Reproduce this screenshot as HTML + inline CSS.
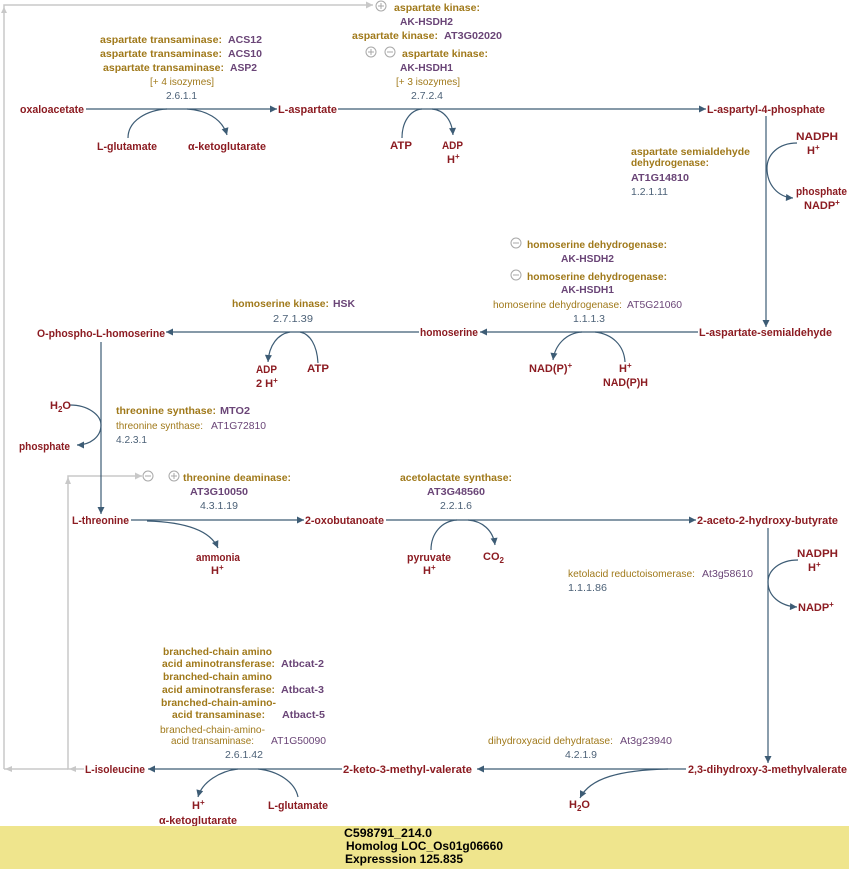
<!DOCTYPE html>
<html><head><meta charset="utf-8"><style>
html,body{margin:0;padding:0;background:#fff;}
svg{display:block;}
.c{font-family:"Liberation Sans",sans-serif;font-weight:bold;font-size:11px;fill:#8C1C22;}
.e{font-family:"Liberation Sans",sans-serif;font-weight:bold;font-size:10.5px;fill:#A0791A;}
.g{font-family:"Liberation Sans",sans-serif;font-weight:bold;font-size:10.5px;fill:#6A4577;}
.en{font-family:"Liberation Sans",sans-serif;font-size:10.5px;fill:#A0791A;}
.gn{font-family:"Liberation Sans",sans-serif;font-size:10.5px;fill:#6A4577;}
.ec{font-family:"Liberation Sans",sans-serif;font-size:10.5px;fill:#4C6177;}
.y{font-family:"Liberation Sans",sans-serif;font-weight:bold;font-size:12px;fill:#000;}
.ln{stroke:#3D5C75;stroke-width:1.2;fill:none;}
.gl{stroke:#C8C8C8;stroke-width:1.5;fill:none;}
</style></head><body>
<svg width="849" height="869" viewBox="0 0 849 869" xmlns="http://www.w3.org/2000/svg">
<defs>
<marker id="a" viewBox="0 0 10 10" refX="10" refY="5" markerWidth="8" markerHeight="7" markerUnits="userSpaceOnUse" orient="auto"><path d="M0,0 L10,5 L0,10 z" fill="#3D5C75"/></marker>
<marker id="ga" viewBox="0 0 10 10" refX="10" refY="5" markerWidth="8" markerHeight="7" markerUnits="userSpaceOnUse" orient="auto"><path d="M0,0 L10,5 L0,10 z" fill="#C8C8C8"/></marker>
</defs>
<rect x="0" y="0" width="849" height="869" fill="#fff"/>

<!-- grey feedback lines -->
<path class="gl" d="M4,769 V5 H373" marker-end="url(#ga)"/>
<path d="M4,7 L1,13 L7,13 z" fill="#C8C8C8"/>
<path class="gl" d="M68,769 H4"/>
<path d="M5,769 L12,766 L12,772 z" fill="#C8C8C8"/>
<path class="gl" d="M84,769 H68 V476 H142" marker-end="url(#ga)"/>
<path d="M69,769 L76,766 L76,772 z" fill="#C8C8C8"/>
<path d="M68,477 L65,484 L71,484 z" fill="#C8C8C8"/>

<!-- regulation circles -->
<g stroke="#A8A8A8" fill="#fff" stroke-width="1">
<circle cx="381" cy="6" r="5"/><circle cx="371" cy="52" r="5"/><circle cx="390" cy="52" r="5"/>
<circle cx="516" cy="243" r="5"/><circle cx="516" cy="275" r="5"/>
<circle cx="148" cy="476" r="5"/><circle cx="174" cy="476" r="5"/>
</g>
<g stroke="#A8A8A8" stroke-width="1">
<path d="M378,6 H384 M381,3 V9"/>
<path d="M368,52 H374 M371,49 V55"/>
<path d="M387,52 H393"/>
<path d="M513,243 H519"/><path d="M513,275 H519"/>
<path d="M145,476 H151"/>
<path d="M171,476 H177 M174,473 V479"/>
</g>

<!-- main reaction lines -->
<path class="ln" d="M86,109 H277" marker-end="url(#a)"/>
<path class="ln" d="M338,109 H706" marker-end="url(#a)"/>
<path class="ln" d="M766,116 V327" marker-end="url(#a)"/>
<path class="ln" d="M698,332 H480" marker-end="url(#a)"/>
<path class="ln" d="M419,332 H166" marker-end="url(#a)"/>
<path class="ln" d="M101,342 V514" marker-end="url(#a)"/>
<path class="ln" d="M131,520 H304" marker-end="url(#a)"/>
<path class="ln" d="M386,520 H696" marker-end="url(#a)"/>
<path class="ln" d="M768,528 V763" marker-end="url(#a)"/>
<path class="ln" d="M686,769 H477" marker-end="url(#a)"/>
<path class="ln" d="M342,769 H148" marker-end="url(#a)"/>

<!-- side arcs -->
<path class="ln" d="M128,138 C128,120 148,110 167,109"/>
<path class="ln" d="M187,109 C205,110 222,118 227,135" marker-end="url(#a)"/>
<path class="ln" d="M402,138 C402,122 410,110 422,109"/>
<path class="ln" d="M432,109 C444,110 452,120 453,135" marker-end="url(#a)"/>
<path class="ln" d="M797,143 C778,143 767,155 767,168 C767,185 778,197 793,198" marker-end="url(#a)"/>
<path class="ln" d="M582,332 C566,333 555,345 553,360" marker-end="url(#a)"/>
<path class="ln" d="M595,332 C612,334 624,345 625,362"/>
<path class="ln" d="M290,332 C278,334 269,345 268,362" marker-end="url(#a)"/>
<path class="ln" d="M300,332 C310,334 317,345 318,363"/>
<path class="ln" d="M70,405 C88,405 101,415 101,425 C101,437 90,445 77,445" marker-end="url(#a)"/>
<path class="ln" d="M147,521 C185,522 210,530 218,548" marker-end="url(#a)"/>
<path class="ln" d="M431,550 C431,533 442,521 457,520"/>
<path class="ln" d="M468,520 C482,521 493,530 495,545" marker-end="url(#a)"/>
<path class="ln" d="M798,560 C780,560 768,570 768,582 C768,596 780,606 797,607" marker-end="url(#a)"/>
<path class="ln" d="M668,769 C620,770 590,778 580,798" marker-end="url(#a)"/>
<path class="ln" d="M238,769 C220,771 202,782 198,797" marker-end="url(#a)"/>
<path class="ln" d="M258,769 C278,771 295,782 298,797"/>

<!-- compounds -->
<text class="c" x="20" y="113" textLength="64" lengthAdjust="spacingAndGlyphs">oxaloacetate</text>
<text class="c" x="278" y="113" textLength="59" lengthAdjust="spacingAndGlyphs">L-aspartate</text>
<text class="c" x="707" y="113" textLength="118" lengthAdjust="spacingAndGlyphs">L-aspartyl-4-phosphate</text>
<text class="c" x="699" y="336" textLength="133" lengthAdjust="spacingAndGlyphs">L-aspartate-semialdehyde</text>
<text class="c" x="420" y="336" textLength="58" lengthAdjust="spacingAndGlyphs">homoserine</text>
<text class="c" x="37" y="337" textLength="128" lengthAdjust="spacingAndGlyphs">O-phospho-L-homoserine</text>
<text class="c" x="72" y="524" textLength="57" lengthAdjust="spacingAndGlyphs">L-threonine</text>
<text class="c" x="305" y="524" textLength="79" lengthAdjust="spacingAndGlyphs">2-oxobutanoate</text>
<text class="c" x="697" y="524" textLength="141" lengthAdjust="spacingAndGlyphs">2-aceto-2-hydroxy-butyrate</text>
<text class="c" x="688" y="773" textLength="159" lengthAdjust="spacingAndGlyphs">2,3-dihydroxy-3-methylvalerate</text>
<text class="c" x="343" y="773" textLength="129" lengthAdjust="spacingAndGlyphs">2-keto-3-methyl-valerate</text>
<text class="c" x="85" y="773" textLength="60" lengthAdjust="spacingAndGlyphs">L-isoleucine</text>

<!-- side compounds -->
<text class="c" x="97" y="150" textLength="60" lengthAdjust="spacingAndGlyphs">L-glutamate</text>
<text class="c" x="188" y="150" textLength="78" lengthAdjust="spacingAndGlyphs">α-ketoglutarate</text>
<text class="c" x="390" y="149" textLength="22" lengthAdjust="spacingAndGlyphs">ATP</text>
<text class="c" x="442" y="149" textLength="21" lengthAdjust="spacingAndGlyphs">ADP</text>
<text class="c" x="447" y="163">H<tspan font-size="8" dy="-4">+</tspan></text>
<text class="c" x="796" y="140" textLength="42" lengthAdjust="spacingAndGlyphs">NADPH</text>
<text class="c" x="807" y="154">H<tspan font-size="8" dy="-4">+</tspan></text>
<text class="c" x="796" y="195" textLength="51" lengthAdjust="spacingAndGlyphs">phosphate</text>
<text class="c" x="804" y="209">NADP<tspan font-size="8" dy="-4">+</tspan></text>
<text class="c" x="529" y="372">NAD(P)<tspan font-size="8" dy="-4">+</tspan></text>
<text class="c" x="619" y="372">H<tspan font-size="8" dy="-4">+</tspan></text>
<text class="c" x="603" y="386" textLength="45" lengthAdjust="spacingAndGlyphs">NAD(P)H</text>
<text class="c" x="256" y="373" textLength="21" lengthAdjust="spacingAndGlyphs">ADP</text>
<text class="c" x="256" y="387">2 H<tspan font-size="8" dy="-4">+</tspan></text>
<text class="c" x="307" y="372" textLength="22" lengthAdjust="spacingAndGlyphs">ATP</text>
<text class="c" x="50" y="409">H<tspan font-size="8" dy="3">2</tspan><tspan dy="-3">O</tspan></text>
<text class="c" x="19" y="450" textLength="51" lengthAdjust="spacingAndGlyphs">phosphate</text>
<text class="c" x="196" y="561" textLength="44" lengthAdjust="spacingAndGlyphs">ammonia</text>
<text class="c" x="211" y="574">H<tspan font-size="8" dy="-4">+</tspan></text>
<text class="c" x="407" y="561" textLength="44" lengthAdjust="spacingAndGlyphs">pyruvate</text>
<text class="c" x="423" y="574">H<tspan font-size="8" dy="-4">+</tspan></text>
<text class="c" x="483" y="560">CO<tspan font-size="8" dy="3">2</tspan></text>
<text class="c" x="797" y="557" textLength="41" lengthAdjust="spacingAndGlyphs">NADPH</text>
<text class="c" x="808" y="571">H<tspan font-size="8" dy="-4">+</tspan></text>
<text class="c" x="798" y="611">NADP<tspan font-size="8" dy="-4">+</tspan></text>
<text class="c" x="569" y="808">H<tspan font-size="8" dy="3">2</tspan><tspan dy="-3">O</tspan></text>
<text class="c" x="192" y="809">H<tspan font-size="8" dy="-4">+</tspan></text>
<text class="c" x="159" y="824" textLength="78" lengthAdjust="spacingAndGlyphs">α-ketoglutarate</text>
<text class="c" x="268" y="809" textLength="60" lengthAdjust="spacingAndGlyphs">L-glutamate</text>

<!-- aspartate transaminase -->
<text class="e" x="100" y="43" textLength="122" lengthAdjust="spacingAndGlyphs">aspartate transaminase:</text>
<text class="g" x="228" y="43" textLength="34" lengthAdjust="spacingAndGlyphs">ACS12</text>
<text class="e" x="100" y="57" textLength="122" lengthAdjust="spacingAndGlyphs">aspartate transaminase:</text>
<text class="g" x="228" y="57" textLength="34" lengthAdjust="spacingAndGlyphs">ACS10</text>
<text class="e" x="103" y="71" textLength="121" lengthAdjust="spacingAndGlyphs">aspartate transaminase:</text>
<text class="g" x="230" y="71" textLength="27" lengthAdjust="spacingAndGlyphs">ASP2</text>
<text class="en" x="150" y="85" textLength="64" lengthAdjust="spacingAndGlyphs">[+ 4 isozymes]</text>
<text class="ec" x="166" y="99" textLength="31" lengthAdjust="spacingAndGlyphs">2.6.1.1</text>

<!-- aspartate kinase -->
<text class="e" x="394" y="11" textLength="86" lengthAdjust="spacingAndGlyphs">aspartate kinase:</text>
<text class="g" x="400" y="25" textLength="53" lengthAdjust="spacingAndGlyphs">AK-HSDH2</text>
<text class="e" x="352" y="39" textLength="86" lengthAdjust="spacingAndGlyphs">aspartate kinase:</text>
<text class="g" x="444" y="39" textLength="58" lengthAdjust="spacingAndGlyphs">AT3G02020</text>
<text class="e" x="402" y="57" textLength="86" lengthAdjust="spacingAndGlyphs">aspartate kinase:</text>
<text class="g" x="400" y="71" textLength="53" lengthAdjust="spacingAndGlyphs">AK-HSDH1</text>
<text class="en" x="396" y="85" textLength="64" lengthAdjust="spacingAndGlyphs">[+ 3 isozymes]</text>
<text class="ec" x="411" y="99" textLength="32" lengthAdjust="spacingAndGlyphs">2.7.2.4</text>

<!-- aspartate semialdehyde dehydrogenase -->
<text class="e" x="631" y="155" textLength="119" lengthAdjust="spacingAndGlyphs">aspartate semialdehyde</text>
<text class="e" x="631" y="166" textLength="78" lengthAdjust="spacingAndGlyphs">dehydrogenase:</text>
<text class="g" x="631" y="181" textLength="58" lengthAdjust="spacingAndGlyphs">AT1G14810</text>
<text class="ec" x="631" y="195" textLength="37" lengthAdjust="spacingAndGlyphs">1.2.1.11</text>

<!-- homoserine dehydrogenase -->
<text class="e" x="527" y="248" textLength="140" lengthAdjust="spacingAndGlyphs">homoserine dehydrogenase:</text>
<text class="g" x="561" y="262" textLength="53" lengthAdjust="spacingAndGlyphs">AK-HSDH2</text>
<text class="e" x="527" y="280" textLength="140" lengthAdjust="spacingAndGlyphs">homoserine dehydrogenase:</text>
<text class="g" x="561" y="293" textLength="53" lengthAdjust="spacingAndGlyphs">AK-HSDH1</text>
<text class="en" x="493" y="308" textLength="129" lengthAdjust="spacingAndGlyphs">homoserine dehydrogenase:</text>
<text class="gn" x="627" y="308" textLength="55" lengthAdjust="spacingAndGlyphs">AT5G21060</text>
<text class="ec" x="573" y="322" textLength="32" lengthAdjust="spacingAndGlyphs">1.1.1.3</text>

<!-- homoserine kinase -->
<text class="e" x="232" y="307" textLength="97" lengthAdjust="spacingAndGlyphs">homoserine kinase:</text>
<text class="g" x="333" y="307" textLength="22" lengthAdjust="spacingAndGlyphs">HSK</text>
<text class="ec" x="273" y="322" textLength="40" lengthAdjust="spacingAndGlyphs">2.7.1.39</text>

<!-- threonine synthase -->
<text class="e" x="116" y="414" textLength="100" lengthAdjust="spacingAndGlyphs">threonine synthase:</text>
<text class="g" x="220" y="414" textLength="30" lengthAdjust="spacingAndGlyphs">MTO2</text>
<text class="en" x="116" y="429" textLength="87" lengthAdjust="spacingAndGlyphs">threonine synthase:</text>
<text class="gn" x="211" y="429" textLength="55" lengthAdjust="spacingAndGlyphs">AT1G72810</text>
<text class="ec" x="116" y="443" textLength="31" lengthAdjust="spacingAndGlyphs">4.2.3.1</text>

<!-- threonine deaminase -->
<text class="e" x="183" y="481" textLength="108" lengthAdjust="spacingAndGlyphs">threonine deaminase:</text>
<text class="g" x="190" y="495" textLength="58" lengthAdjust="spacingAndGlyphs">AT3G10050</text>
<text class="ec" x="200" y="509" textLength="38" lengthAdjust="spacingAndGlyphs">4.3.1.19</text>

<!-- acetolactate synthase -->
<text class="e" x="400" y="481" textLength="112" lengthAdjust="spacingAndGlyphs">acetolactate synthase:</text>
<text class="g" x="427" y="495" textLength="58" lengthAdjust="spacingAndGlyphs">AT3G48560</text>
<text class="ec" x="440" y="509" textLength="32" lengthAdjust="spacingAndGlyphs">2.2.1.6</text>

<!-- ketolacid reductoisomerase -->
<text class="en" x="568" y="577" textLength="127" lengthAdjust="spacingAndGlyphs">ketolacid reductoisomerase:</text>
<text class="gn" x="702" y="577" textLength="51" lengthAdjust="spacingAndGlyphs">At3g58610</text>
<text class="ec" x="568" y="591" textLength="39" lengthAdjust="spacingAndGlyphs">1.1.1.86</text>

<!-- dihydroxyacid dehydratase -->
<text class="en" x="488" y="744" textLength="125" lengthAdjust="spacingAndGlyphs">dihydroxyacid dehydratase:</text>
<text class="gn" x="620" y="744" textLength="52" lengthAdjust="spacingAndGlyphs">At3g23940</text>
<text class="ec" x="565" y="758" textLength="32" lengthAdjust="spacingAndGlyphs">4.2.1.9</text>

<!-- branched-chain aminotransferase -->
<text class="e" x="163" y="655" textLength="109" lengthAdjust="spacingAndGlyphs">branched-chain amino</text>
<text class="e" x="162" y="667" textLength="113" lengthAdjust="spacingAndGlyphs">acid aminotransferase:</text>
<text class="g" x="281" y="667" textLength="43" lengthAdjust="spacingAndGlyphs">Atbcat-2</text>
<text class="e" x="163" y="680" textLength="109" lengthAdjust="spacingAndGlyphs">branched-chain amino</text>
<text class="e" x="162" y="693" textLength="113" lengthAdjust="spacingAndGlyphs">acid aminotransferase:</text>
<text class="g" x="281" y="693" textLength="43" lengthAdjust="spacingAndGlyphs">Atbcat-3</text>
<text class="e" x="161" y="706" textLength="115" lengthAdjust="spacingAndGlyphs">branched-chain-amino-</text>
<text class="e" x="172" y="718" textLength="93" lengthAdjust="spacingAndGlyphs">acid transaminase:</text>
<text class="g" x="282" y="718" textLength="43" lengthAdjust="spacingAndGlyphs">Atbact-5</text>
<text class="en" x="160" y="733" textLength="105" lengthAdjust="spacingAndGlyphs">branched-chain-amino-</text>
<text class="en" x="171" y="744" textLength="83" lengthAdjust="spacingAndGlyphs">acid transaminase:</text>
<text class="gn" x="271" y="744" textLength="55" lengthAdjust="spacingAndGlyphs">AT1G50090</text>
<text class="ec" x="225" y="758" textLength="38" lengthAdjust="spacingAndGlyphs">2.6.1.42</text>

<!-- yellow info box -->
<rect x="0" y="826" width="849" height="43" fill="#EFE58D"/>
<text class="y" x="344" y="837" textLength="88" lengthAdjust="spacingAndGlyphs">C598791_214.0</text>
<text class="y" x="346" y="850" textLength="157" lengthAdjust="spacingAndGlyphs">Homolog LOC_Os01g06660</text>
<text class="y" x="345" y="863" textLength="118" lengthAdjust="spacingAndGlyphs">Expresssion 125.835</text>
</svg>
</body></html>
